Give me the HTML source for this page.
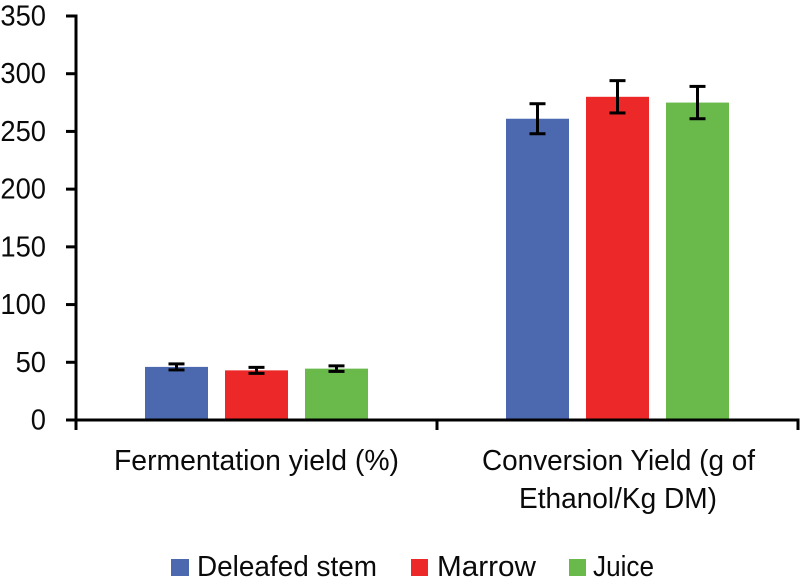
<!DOCTYPE html>
<html lang="en">
<head>
<meta charset="utf-8">
<title>Fermentation and conversion yield</title>
<style>
  html, body { margin: 0; padding: 0; background: #fff; }
  svg { display: block; }
  text { font-family: "Liberation Sans", sans-serif; font-size: 29px; fill: #0a0a0a; }
</style>
</head>
<body>
<svg id="chart" xmlns="http://www.w3.org/2000/svg" width="800" height="586" viewBox="0 0 800 586">
  <rect x="0" y="0" width="800" height="586" fill="#fff"/>
  <g id="bars"></g>
  <g id="errors"></g>
  <g id="axes"></g>

  <text x="114" y="470" textLength="285" lengthAdjust="spacingAndGlyphs">Fermentation yield (%)</text>
  <text x="482" y="470" textLength="273" lengthAdjust="spacingAndGlyphs">Conversion Yield (g of</text>
  <text x="519" y="508" textLength="198" lengthAdjust="spacingAndGlyphs">Ethanol/Kg DM)</text>

  <g>
    <rect x="171" y="559" width="18" height="17" fill="#4c68ae"/>
    <text x="197" y="576" textLength="180" lengthAdjust="spacingAndGlyphs">Deleafed stem</text>
    <rect x="411" y="559" width="17" height="17" fill="#ec2828"/>
    <text x="437" y="576" textLength="99" lengthAdjust="spacingAndGlyphs">Marrow</text>
    <rect x="569" y="559" width="17" height="17" fill="#6aba4b"/>
    <text x="593" y="576" textLength="61" lengthAdjust="spacingAndGlyphs">Juice</text>
  </g>
</svg>
<script>
const categories = ['Fermentation yield (%)', 'Conversion Yield (g of Ethanol/Kg DM)'];
const seriesNames = ['Deleafed stem', 'Marrow', 'Juice'];
const deleafedValues = [46, 261];
const marrowValues = [43, 280];
const juiceValues = [44.5, 275];
const deleafedErrors = [2.6, 13];
const marrowErrors = [2.6, 14];
const juiceErrors = [2.4, 14];
const yTicks = [0, 50, 100, 150, 200, 250, 300, 350];

const seriesValues = [deleafedValues, marrowValues, juiceValues];
const seriesErrors = [deleafedErrors, marrowErrors, juiceErrors];
const seriesColors = ['#4c68ae', '#ec2828', '#6aba4b'];
const NS = 'http://www.w3.org/2000/svg';
const plotLeft = 76, plotRight = 798, plotBottom = 420, plotTop = 16, yMax = 350;
const barWidth = 63, barStep = 80;

function yScale(v) {
  return plotBottom - (v / yMax) * (plotBottom - plotTop);
}
function categoryCenter(i) {
  return plotLeft + (i + 0.5) * (plotRight - plotLeft) / categories.length;
}
function barCenter(c, s) {
  return categoryCenter(c) + (s - (seriesNames.length - 1) / 2) * barStep;
}
function make(tag, attrs, parent) {
  const el = document.createElementNS(NS, tag);
  Object.keys(attrs).forEach(function (k) { el.setAttribute(k, attrs[k]); });
  parent.appendChild(el);
  return el;
}

const barsG = document.getElementById('bars');
const errorsG = document.getElementById('errors');
const axesG = document.getElementById('axes');

seriesNames.forEach(function (name, s) {
  categories.forEach(function (cat, c) {
    const v = seriesValues[s][c];
    const e = seriesErrors[s][c];
    const cx = barCenter(c, s);
    const bar = make('rect', {
      x: cx - barWidth / 2, y: yScale(v), width: barWidth,
      height: plotBottom - yScale(v), fill: seriesColors[s]
    }, barsG);
    
    

    const stem = make('line', {
      x1: cx, x2: cx, y1: yScale(v + e), y2: yScale(v - e),
      stroke: '#000', 'stroke-width': 3
    }, errorsG);
    
    

    [v + e, v - e].forEach(function (end) {
      const cap = make('line', {
        x1: cx - 8, x2: cx + 8, y1: yScale(end), y2: yScale(end),
        stroke: '#000', 'stroke-width': 3
      }, errorsG);
      
      
    });
  });
});

const yAxis = make('line', {
  x1: plotLeft, x2: plotLeft, y1: plotTop - 1.5, y2: plotBottom + 10,
  stroke: '#000', 'stroke-width': 3
}, axesG);



const xAxis = make('line', {
  x1: plotLeft - 10, x2: plotRight + 1.5, y1: plotBottom, y2: plotBottom,
  stroke: '#000', 'stroke-width': 3
}, axesG);



yTicks.forEach(function (t) {
  const y = yScale(t);
  const tick = make('line', {
    x1: plotLeft - 10, x2: plotLeft, y1: y, y2: y,
    stroke: '#000', 'stroke-width': 3
  }, axesG);
  
  

  const str = String(t);
  const width = str.length * 15.2;
  const label = make('text', {
    x: 46 - width, y: y + 9.5, textLength: width, lengthAdjust: 'spacingAndGlyphs'
  }, axesG);
  label.textContent = str;
  
  
});

for (let i = 1; i <= categories.length; i++) {
  const x = plotLeft + i * (plotRight - plotLeft) / categories.length;
  const tick = make('line', {
    x1: x, x2: x, y1: plotBottom, y2: plotBottom + 10,
    stroke: '#000', 'stroke-width': 3
  }, axesG);
  
  
}
</script>
</body>
</html>
